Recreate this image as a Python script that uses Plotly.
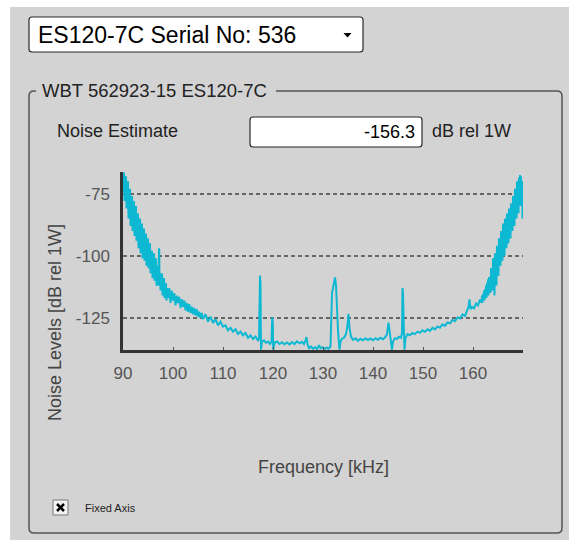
import plotly.graph_objects as go

# ---- figure geometry (pixels) ----
W, H = 569, 540
L, R, T, B = 123, 523, 172, 350  # plot area edges


def px(x):
    return (x - L) / (R - L)


def py(y):
    return (B - y) / (B - T)


# ---- data: noise spectrum, frequency [kHz] vs level [dB rel 1W] ----
# lower band edge (90-99 kHz), noisy roll-off
freq_low = [
    90.0, 90.1, 90.2, 90.3, 90.4, 90.5, 90.6, 90.7, 90.8, 90.9,
    91.0, 91.1, 91.2, 91.3, 91.4, 91.5, 91.6, 91.7, 91.8, 91.9,
    92.0, 92.1, 92.2, 92.3, 92.4, 92.5, 92.6, 92.7, 92.8, 92.9,
    93.0, 93.1, 93.2, 93.3, 93.4, 93.5, 93.6, 93.7, 93.8, 93.9,
    94.0, 94.1, 94.2, 94.3, 94.4, 94.5, 94.6, 94.7, 94.8, 94.9,
    95.0, 95.1, 95.2, 95.3, 95.4, 95.5, 95.6, 95.7, 95.8, 95.9,
    96.0, 96.1, 96.2, 96.3, 96.4, 96.5, 96.6, 96.7, 96.8, 96.9,
    97.0, 97.1, 97.2, 97.25, 97.3, 97.4, 97.5, 97.6, 97.7, 97.8, 97.9,
    98.0, 98.1, 98.2, 98.3, 98.4, 98.5, 98.6, 98.7, 98.8,
]
noise_low = [
    -67, -74, -66.5, -78, -70, -76, -68, -81, -72, -79,
    -70, -85, -76, -83, -73, -88, -79, -86, -76, -90,
    -81, -88, -78, -92, -84, -89, -80, -94, -86, -91,
    -83, -97, -88, -94, -85, -99, -90, -96, -87, -101,
    -93, -98, -89, -102, -94, -100, -91, -104, -96, -101,
    -93, -105, -98, -103, -95, -107, -100, -105, -98, -109,
    -102, -107, -99, -110, -104, -108, -101, -112, -106, -110,
    -104, -112, -97, -98, -111, -107, -114, -108, -112, -107, -116,
    -110, -114, -109, -117, -112, -116, -111, -118, -113,
]

# floor of the band (99-150 kHz) with narrow interference lines
freq_mid = [
    99.0, 99.25, 99.5, 99.75, 100.0, 100.25, 100.5, 100.75, 101.0, 101.25,
    101.5, 101.75, 102.0, 102.25, 102.5, 102.75, 103.0, 103.25, 103.5, 103.75,
    104.0, 104.25, 104.5, 104.75, 105.0, 105.25, 105.5, 105.75, 106.0, 106.5,
    107.0, 107.5, 108.0, 108.5, 109.0, 109.5, 110.0, 110.5, 111.0, 111.5,
    112.0, 112.5, 113.0, 113.5, 114.0, 114.5, 115.0, 115.5, 116.0, 116.5,
    117.0, 117.2, 117.4, 117.5, 117.6, 117.8, 118.2, 118.6, 119.0, 119.4,
    119.7, 119.85, 119.95, 120.05, 120.3, 120.8, 121.3, 121.8, 122.3, 122.8,
    123.3, 123.8, 124.3, 124.8, 125.3, 125.8, 126.2, 126.5, 126.7, 126.9,
    127.2, 127.6, 128.0, 128.4, 128.8, 129.2, 129.5, 129.9, 130.3, 130.7,
    131.1, 131.5, 131.7, 131.8, 132.0, 132.2, 132.4, 132.6, 132.8, 133.0,
    133.3, 133.5, 133.8, 134.2, 134.6, 134.9, 135.1, 135.3, 135.6, 136.0,
    136.5, 137.0, 137.5, 138.0, 138.5, 139.0, 139.5, 140.0, 140.5, 141.0,
    141.5, 142.0, 142.5, 142.8, 143.1, 143.3, 143.6, 143.8, 144.0, 144.4,
    144.8, 145.2, 145.6, 145.8, 145.9, 146.0, 146.15, 146.3, 146.5, 146.9,
    147.4, 147.9, 148.4, 148.9, 149.4, 149.9,
]
noise_mid = [
    -117, -113, -119, -114, -118, -115, -120, -116, -119, -116.5,
    -121, -117.5, -120.5, -118, -122, -119, -122.5, -119.5, -123, -120.5,
    -123.5, -121, -124, -121.5, -124.5, -122.5, -125, -123, -125.5, -123.5,
    -126.5, -124.5, -127, -125.5, -128, -126.5, -128.5, -128, -130, -129,
    -130.5, -129.5, -131.5, -130.5, -132, -131, -133, -132, -133.5, -132.5,
    -134, -133.5, -108, -111, -137.8, -134.5, -134, -135, -134.5, -135.5,
    -134.5, -124.7, -127, -137.8, -135, -134.5, -135.5, -134.8, -135.6, -134.9,
    -135.7, -134.7, -135.5, -134.4, -135.2, -134.6, -135.5, -134, -132.7, -135.5,
    -137.2, -136.5, -137.4, -136.8, -137.5, -136, -137.2, -136.8, -137.5, -136.9,
    -137.4, -136.5, -124, -115, -113, -111, -108.7, -112, -122, -130,
    -137.8, -134.5, -133.4, -133, -131.5, -128, -123.4, -129, -132.5, -133.8,
    -133.2, -134.2, -133.4, -134, -133.2, -133.9, -133.3, -134, -133.2, -133.8,
    -133, -133.6, -132.6, -131.5, -126.9, -130, -134, -137.8, -134.5, -133.2,
    -133.4, -132.6, -133, -131, -113, -115, -128, -137.8, -133, -131.5,
    -132, -131, -131.5, -130.5, -131, -130,
]

# upper band edge (150-170 kHz), rising noise
freq_high = [
    150.4, 150.9, 151.4, 151.9, 152.4, 152.9, 153.4, 153.9, 154.4, 154.9,
    155.4, 155.9, 156.4, 156.9, 157.4, 157.9, 158.4, 158.8, 159.1, 159.3,
    159.5, 159.8, 160.2, 160.6, 161.0, 161.4, 161.7, 161.8, 161.9, 162.0,
    162.1, 162.2, 162.3, 162.4, 162.5, 162.6, 162.7, 162.8, 162.9, 163.0,
    163.1, 163.2, 163.3, 163.4, 163.5, 163.6, 163.7, 163.8, 163.9, 164.0,
    164.1, 164.2, 164.3, 164.4, 164.5, 164.6, 164.7, 164.8, 164.9, 165.0,
    165.1, 165.2, 165.3, 165.4, 165.5, 165.6, 165.7, 165.8, 165.9, 166.0,
    166.1, 166.2, 166.3, 166.4, 166.5, 166.6, 166.7, 166.8, 166.9, 167.0,
    167.1, 167.2, 167.3, 167.4, 167.5, 167.6, 167.7, 167.8, 167.9, 168.0,
    168.1, 168.2, 168.3, 168.4, 168.5, 168.6, 168.7, 168.8, 168.9, 169.0,
    169.1, 169.2, 169.3, 169.4, 169.5, 169.6, 169.7, 169.8, 169.9,
]
noise_high = [
    -130.6, -129.6, -130.2, -129, -129.6, -128.4, -128.9, -127.6, -128.2, -126.8,
    -127.2, -125.8, -126.3, -124.8, -125.2, -123.6, -124.2, -122.4, -120.5, -117.5,
    -121.5, -120.6, -121.2, -119.2, -120, -117.6, -118.8, -116, -119, -115.5,
    -117.5, -114, -118, -113.5, -116, -112, -117, -111, -114, -109.5,
    -116, -108.5, -113, -110, -115, -105, -112, -107, -114, -101,
    -110, -104, -116, -99, -108, -103, -112, -96, -105, -99,
    -108, -93, -102, -96, -104, -90, -99, -93, -102, -87,
    -96, -91, -100, -85, -94, -89, -97, -83, -92, -87,
    -95, -81, -89, -84, -93, -79, -87, -82, -90, -76,
    -85, -79, -88, -73, -82, -77, -85, -70, -79, -74,
    -83, -68.5, -76, -67.5, -80, -68, -77, -70, -85,
]

freq_khz = freq_low + freq_mid + freq_high
noise_db = noise_low + noise_mid + noise_high
assert len(freq_khz) == len(noise_db)

x_ticks = [90, 100, 110, 120, 130, 140, 150, 160]
y_ticks = [-75, -100, -125]
x_range = [90, 170]
y_range = [-137.9, -66.3]

device_label = "ES120-7C Serial No: 536"
group_title = "WBT 562923-15 ES120-7C"
noise_estimate = -156.3

BG = "#d3d3d3"
LINE = "#0db8d3"
FONT = "Arial, Liberation Sans, sans-serif"


def rrect(x0, y0, x1, y1, r):
    """Rounded rectangle path in paper coordinates from pixel corners."""
    pts = [
        f"M {px(x0 + r)},{py(y0)}",
        f"L {px(x1 - r)},{py(y0)}",
        f"Q {px(x1)},{py(y0)} {px(x1)},{py(y0 + r)}",
        f"L {px(x1)},{py(y1 - r)}",
        f"Q {px(x1)},{py(y1)} {px(x1 - r)},{py(y1)}",
        f"L {px(x0 + r)},{py(y1)}",
        f"Q {px(x0)},{py(y1)} {px(x0)},{py(y1 - r)}",
        f"L {px(x0)},{py(y0 + r)}",
        f"Q {px(x0)},{py(y0)} {px(x0 + r)},{py(y0)}",
        "Z",
    ]
    return " ".join(pts)


fig = go.Figure(
    go.Scatter(
        x=freq_khz,
        y=noise_db,
        mode="lines",
        line=dict(color=LINE, width=2),
        hoverinfo="skip",
    )
)

shapes = [
    # window edge
    dict(type="rect", xref="paper", yref="paper", x0=px(0), x1=px(W), y0=py(0), y1=py(7),
         fillcolor="white", line=dict(width=0), layer="below"),
    dict(type="rect", xref="paper", yref="paper", x0=px(0), x1=px(10), y0=py(0), y1=py(H),
         fillcolor="white", line=dict(width=0), layer="below"),
    # transducer drop-down
    dict(type="path", xref="paper", yref="paper", path=rrect(29, 17, 363, 52, 3),
         fillcolor="white", line=dict(color="#2a2a2a", width=1.2)),
    dict(type="path", xref="paper", yref="paper",
         path=f"M {px(343.5)},{py(33)} L {px(351.5)},{py(33)} L {px(347.5)},{py(37.5)} Z",
         fillcolor="black", line=dict(width=0)),
    # group box
    dict(type="path", xref="paper", yref="paper", path=rrect(29, 91, 562, 533, 5),
         line=dict(color="#555555", width=1.5)),
    dict(type="rect", xref="paper", yref="paper", x0=px(36), x1=px(276), y0=py(86), y1=py(96),
         fillcolor=BG, line=dict(width=0)),
    # noise estimate box
    dict(type="path", xref="paper", yref="paper", path=rrect(250, 117, 422, 147, 3),
         fillcolor="white", line=dict(color="#2a2a2a", width=1.2)),
    # checkbox
    dict(type="rect", xref="paper", yref="paper", x0=px(53), x1=px(68), y0=py(500), y1=py(515),
         fillcolor="#f2f2f2", line=dict(color="#777777", width=1)),
    dict(type="line", xref="paper", yref="paper", x0=px(57), x1=px(64), y0=py(504), y1=py(511),
         line=dict(color="black", width=2.5)),
    dict(type="line", xref="paper", yref="paper", x0=px(57), x1=px(64), y0=py(511), y1=py(504),
         line=dict(color="black", width=2.5)),
]

annotations = [
    dict(text=device_label, x=px(36), y=py(35), xanchor="left", yanchor="middle",
         font=dict(size=23, color="black")),
    dict(text=group_title, x=px(40), y=py(90), xanchor="left", yanchor="middle",
         font=dict(size=18.5, color="#222222")),
    dict(text="Noise Estimate", x=px(55), y=py(131), xanchor="left", yanchor="middle",
         font=dict(size=18, color="#222222")),
    dict(text=f"{noise_estimate:.1f}", x=px(417), y=py(132), xanchor="right", yanchor="middle",
         font=dict(size=18, color="black")),
    dict(text="dB rel 1W", x=px(430), y=py(131), xanchor="left", yanchor="middle",
         font=dict(size=18, color="#222222")),
    dict(text="Noise Levels [dB rel 1W]", x=px(55), y=py(323), textangle=-90,
         xanchor="center", yanchor="middle", font=dict(size=18, color="#444444")),
    dict(text="Frequency [kHz]", x=px(323), y=py(467), xanchor="center", yanchor="middle",
         font=dict(size=18, color="#444444")),
    dict(text="Fixed Axis", x=px(83), y=py(507.5), xanchor="left", yanchor="middle",
         font=dict(size=11, color="#222222")),
]
for a in annotations:
    a.update(xref="paper", yref="paper", showarrow=False)

fig.update_layout(
    width=W,
    height=H,
    margin=dict(l=L, r=W - R, t=T, b=H - B),
    paper_bgcolor=BG,
    plot_bgcolor=BG,
    showlegend=False,
    font=dict(family=FONT),
    shapes=shapes,
    annotations=annotations,
    xaxis=dict(
        range=x_range,
        tickvals=x_ticks,
        ticktext=[str(v) for v in x_ticks],
        showgrid=False,
        zeroline=False,
        showline=True,
        linecolor="#333333",
        linewidth=2.5,
        ticks="inside",
        ticklen=3,
        tickwidth=1,
        tickcolor="#555555",
        tickfont=dict(size=17, color="#555555"),
        ticklabelstandoff=6,
    ),
    yaxis=dict(
        range=y_range,
        tickvals=y_ticks,
        ticktext=[str(v) for v in y_ticks],
        showgrid=True,
        gridcolor="#666666",
        gridwidth=1.5,
        griddash="4px,3px",
        zeroline=False,
        showline=True,
        linecolor="#333333",
        linewidth=2.5,
        ticks="",
        tickfont=dict(size=17, color="#555555"),
        ticklabelstandoff=7,
    ),
)

fig.write_html("out.html")
